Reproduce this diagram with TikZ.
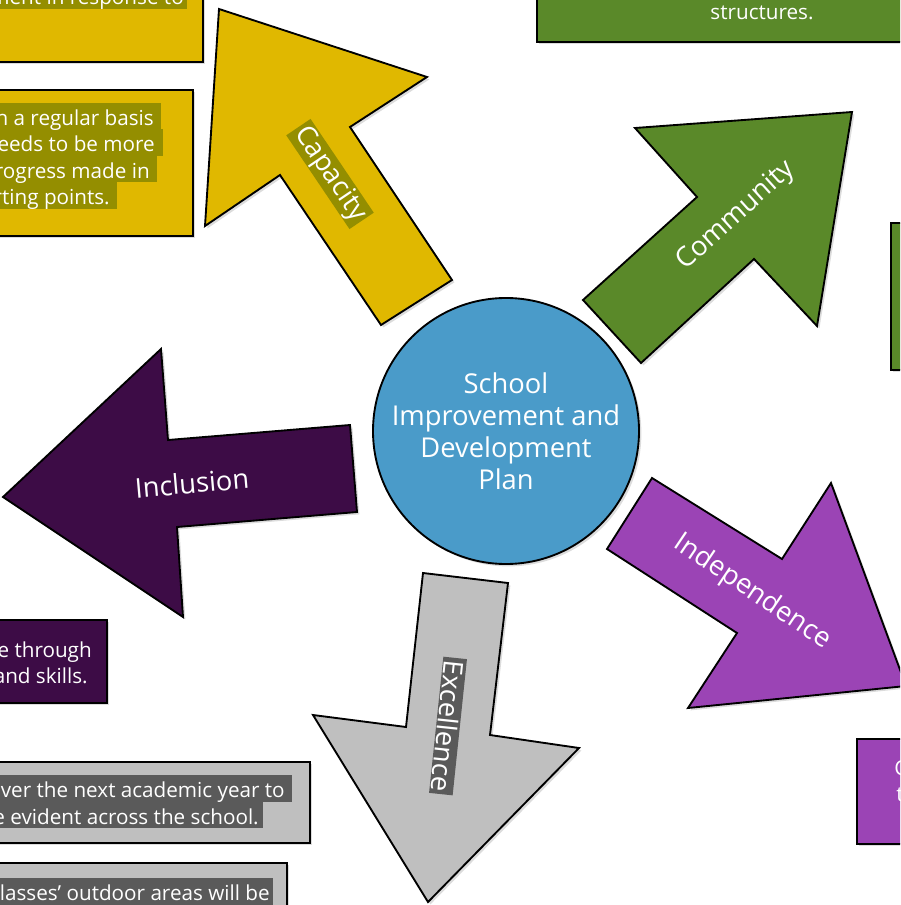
\documentclass[tikz,border=0pt]{standalone}
\usepackage{fontspec}
\setmainfont{Open Sans}
\usetikzlibrary{shadows}

\definecolor{capyellow}{RGB}{224,184,0}
\definecolor{capolive}{RGB}{148,142,0}
\definecolor{comgreen}{RGB}{90,137,41}
\definecolor{incpurple}{RGB}{61,12,70}
\definecolor{indpurple}{RGB}{155,68,181}
\definecolor{excgrey}{RGB}{191,191,191}
\definecolor{excdark}{RGB}{90,90,90}
\definecolor{planblue}{RGB}{74,155,201}

\begin{document}
\begin{tikzpicture}[x=0.75pt,y=0.75pt,yscale=-1,xscale=1,
	blockshape/.style={draw=black, line width=1.4pt, line join=miter, fill=#1,
		drop shadow={shadow xshift=1.8pt, shadow yshift=-1.8pt, opacity=0.28}},
	hlbar/.style={fill=#1},
	arrowtext/.style={text=white, inner xsep=2pt, inner ysep=1pt, font=\fontsize{20.5}{24}\selectfont},
	boxtext/.style={text=white, inner sep=0pt, anchor=base east, font=\fontsize{15.5}{20}\selectfont},
	plan/.style={circle, draw=black, line width=1.4pt, fill=planblue, minimum size=199.5pt, inner sep=0pt,
		text=white, align=center, font=\fontsize{20.5}{24}\selectfont,
		drop shadow={shadow xshift=1.8pt, shadow yshift=-1.8pt, opacity=0.28}}
	]
	\useasboundingbox (0,0) rectangle (900,905);
	\clip (0,0) rectangle (900,905);

	%Shape: Rectangle [yellow, top left]
	\draw [blockshape=capyellow] (-20,-40) rectangle (203,62);
	\fill [hlbar=capolive] (-20,-20) rectangle (187,9.5);
	% Text Node
	\node [boxtext] (capA) at (184,5) {ment in response to};

	%Shape: Rectangle [yellow]
	\draw [blockshape=capyellow] (-20,90) rectangle (193,236);
	\fill [hlbar=capolive] (-20,103) rectangle (161,129.5);
	\fill [hlbar=capolive] (-20,129.5) rectangle (163,156);
	\fill [hlbar=capolive] (-20,156) rectangle (157,182.5);
	\fill [hlbar=capolive] (-20,182.5) rectangle (117,209);
	% Text Node
	\node [boxtext] (capB1) at (154,125.5) {n a regular basis};
	\node [boxtext] (capB2) at (155,152) {eeds to be more};
	\node [boxtext] (capB3) at (150,178.5) {rogress made in};
	\node [boxtext] (capB4) at (110,205) {rting points.};

	%Shape: Rectangle [green, top]
	\draw [blockshape=comgreen] (537,-40) rectangle (920,42);
	% Text Node
	\node [boxtext, anchor=base] (comA) at (762,20) {structures.};

	%Shape: Rectangle [green, right]
	\draw [blockshape=comgreen] (891,223) rectangle (920,370);

	%Shape: Rectangle [purple, right]
	\draw [blockshape=indpurple] (857,739) rectangle (920,844);
	% Text Node
	\node [boxtext, anchor=base west] (indA1) at (894,775) {C};
	\node [boxtext, anchor=base west] (indA2) at (896,801) {t};

	%Shape: Rectangle [dark purple]
	\draw [blockshape=incpurple] (-20,620) rectangle (107,703);
	% Text Node
	\node [boxtext] (incA1) at (92,657) {e through};
	\node [boxtext] (incA2) at (88,683) {and skills.};

	%Shape: Rectangle [grey]
	\draw [blockshape=excgrey] (-20,762) rectangle (310,843);
	\fill [hlbar=excdark] (-20,775) rectangle (292,801.5);
	\fill [hlbar=excdark] (-20,801.5) rectangle (263,828);
	% Text Node
	\node [boxtext] (excA1) at (285,797.5) {ver the next academic year to};
	\node [boxtext] (excA2) at (259,824) {e evident across the school.};

	%Shape: Rectangle [grey, bottom]
	\draw [blockshape=excgrey] (-20,863) rectangle (287,940);
	\fill [hlbar=excdark] (-20,878) rectangle (273,920);
	% Text Node
	\node [boxtext] (excB1) at (270,900.5) {lasses’ outdoor areas will be};

	%Shape: Arrow [Capacity]
	\draw [blockshape=capyellow] (219,9) -- (427,77) -- (350,127) -- (452,280) -- (381,325) -- (280,175) -- (205,226) -- cycle;
	%Shape: Arrow [Community]
	\draw [blockshape=comgreen] (852,112) -- (817,326) -- (754,259) -- (641,363) -- (583,300) -- (697,197) -- (635,128) -- cycle;
	%Shape: Arrow [Inclusion]
	\draw [blockshape=incpurple] (3,497) -- (161,349) -- (168,440) -- (350,425) -- (357,512) -- (177,527) -- (183,617) -- cycle;
	%Shape: Arrow [Independence]
	\draw [blockshape=indpurple] (906,686) -- (688,708) -- (737,633) -- (607,549) -- (652,478) -- (782,559) -- (831,483) -- cycle;
	%Shape: Arrow [Excellence]
	\draw [blockshape=excgrey] (428,902) -- (313,715) -- (406,727) -- (423,573) -- (508,583) -- (490,735) -- (579,748) -- cycle;

	% Text Node
	\node [arrowtext, fill=capolive, rotate=-56] (capacity) at (330,174) {Capacity};
	% Text Node
	\node [arrowtext, rotate=42] (community) at (736,216) {Community};
	% Text Node
	\node [arrowtext, rotate=5] (inclusion) at (192,483) {Inclusion};
	% Text Node
	\node [arrowtext, rotate=-34] (independence) at (752,592) {Independence};
	% Text Node
	\node [arrowtext, fill=excdark, rotate=-96] (excellence) at (448,726) {Excellence};

	% Text Node
	\node [plan] (plan) at (506,431) {School\\Improvement and\\Development\\Plan};

\end{tikzpicture}
\end{document}
